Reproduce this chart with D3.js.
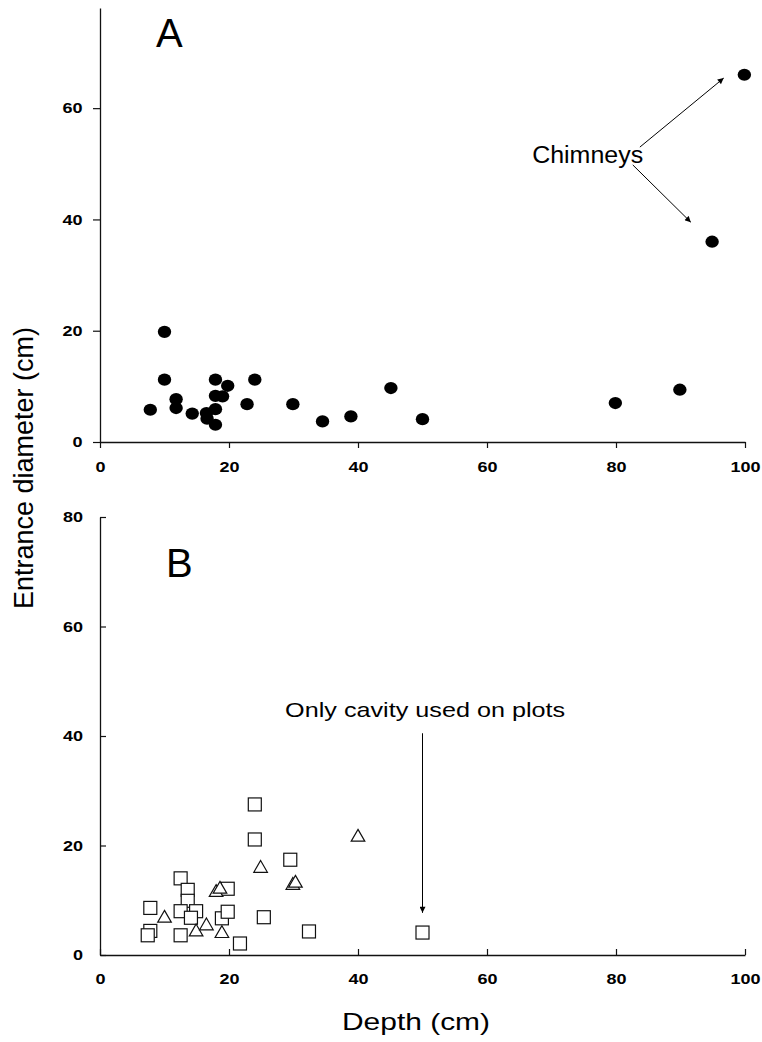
<!DOCTYPE html>
<html>
<head>
<meta charset="utf-8">
<script src="https://cdn.jsdelivr.net/npm/d3@7"></script>
<style>
  body { margin: 0; background: #fff; }
  svg { display: block; font-family: "Liberation Sans", Arial, sans-serif; }
</style>
</head>
<body>
<script>
// Panel A: all cavities (filled circles)
const depthA = [10, 10, 7.8, 11.8, 11.8, 14.3, 16.5, 16.6, 17.9, 17.9, 17.9, 17.9, 19.0, 19.8, 22.8, 24.0, 29.9, 34.5, 38.9, 45.1, 50.0, 79.9, 89.9, 94.9, 99.9];
const diamA = [19.8, 11.2, 5.8, 7.7, 6.1, 5.1, 5.2, 4.2, 11.2, 8.3, 5.9, 3.1, 8.2, 10.1, 6.8, 11.2, 6.8, 3.7, 4.6, 9.7, 4.1, 7.0, 9.4, 36.0, 66.0];

// Panel B: squares and triangles
const depthBsq = [24.0, 24.0, 29.5, 12.5, 13.6, 13.6, 19.8, 7.8, 12.5, 14.9, 14.1, 18.9, 19.8, 25.4, 7.8, 7.4, 12.5, 21.7, 32.4, 50.0];
const diamBsq = [27.5, 21.1, 17.4, 14.0, 11.9, 9.9, 12.1, 8.6, 8.0, 8.0, 6.8, 6.7, 7.9, 6.9, 4.4, 3.6, 3.6, 2.1, 4.3, 4.1];
const depthBtri = [10.0, 14.9, 16.5, 18.0, 18.6, 18.9, 24.9, 29.9, 30.3, 40.0];
const diamBtri = [6.9, 4.4, 5.5, 11.6, 12.2, 4.1, 16.0, 12.9, 13.3, 21.7];

const xTicks = [0, 20, 40, 60, 80, 100];
const yTicksA = [0, 20, 40, 60];
const yTicksB = [0, 20, 40, 60, 80];

// annotation arrows, in data units [x1, y1, x2, y2]
const arrowsA = [[83.7, 53.0, 96.7, 65.4], [82.6, 49.8, 91.6, 39.5]];
const arrowsB = [[50, 40.5, 50, 7.7]];

const width = 762, height = 1042;
const svg = d3.select('body').append('svg')
  .attr('width', width)
  .attr('height', height);

svg.append('defs').append('marker')
  .attr('id', 'head')
  .attr('viewBox', '0 0 10 10')
  .attr('refX', 10).attr('refY', 5)
  .attr('markerWidth', 8).attr('markerHeight', 6)
  .attr('markerUnits', 'userSpaceOnUse')
  .attr('orient', 'auto')
  .append('path')
    .attr('d', 'M0,0L10,5L0,10Z')
    .attr('fill', '#000');

const x = d3.scaleLinear().domain([0, 100]).range([100, 745]);
const yA = d3.scaleLinear().domain([0, 78]).range([442, 8]);
const yB = d3.scaleLinear().domain([0, 80]).range([955, 517]);

function stretch(sel, k) {
  sel.each(function () {
    const w = this.getComputedTextLength();
    d3.select(this).attr('textLength', w * k).attr('lengthAdjust', 'spacingAndGlyphs');
  });
}

function styleAxis(g) {
  g.select('.domain').attr('stroke', '#111').attr('stroke-width', 1.3);
  g.selectAll('.tick line').attr('stroke', '#111').attr('stroke-width', 1.2);
  g.selectAll('.tick text')
    .attr('fill', '#000')
    .attr('font-size', 15)
    .attr('font-weight', 'bold')
    .attr('font-family', '"Liberation Sans", Arial, sans-serif');
  stretch(g.selectAll('.tick text'), 1.2);
}

// ---- panel A ----
svg.append('g')
  .attr('transform', `translate(0,${yA(0)})`)
  .call(d3.axisBottom(x).tickValues(xTicks).tickSizeInner(6).tickSizeOuter(0).tickPadding(13.5))
  .call(styleAxis);

svg.append('g')
  .attr('transform', `translate(${x(0)},0)`)
  .call(d3.axisLeft(yA).tickValues(yTicksA).tickSizeInner(7).tickSizeOuter(0).tickPadding(10.5))
  .call(styleAxis);

svg.append('g')
  .selectAll('ellipse')
  .data(depthA.map((d, i) => [d, diamA[i]]))
  .join('ellipse')
    .attr('cx', d => x(d[0]))
    .attr('cy', d => yA(d[1]))
    .attr('rx', 6.7)
    .attr('ry', 6.1)
    .attr('fill', '#000');

svg.append('text')
  .attr('x', 156).attr('y', 47)
  .attr('font-size', 40)
  .text('A');

svg.append('text')
  .attr('x', x(67.0)).attr('y', yA(50.1))
  .attr('font-size', 23)
  .attr('textLength', 111).attr('lengthAdjust', 'spacingAndGlyphs')
  .text('Chimneys');

svg.append('g')
  .selectAll('line')
  .data(arrowsA)
  .join('line')
    .attr('x1', d => x(d[0])).attr('y1', d => yA(d[1]))
    .attr('x2', d => x(d[2])).attr('y2', d => yA(d[3]))
    .attr('stroke', '#000').attr('stroke-width', 1)
    .attr('marker-end', 'url(#head)');

// ---- panel B ----
svg.append('g')
  .attr('transform', `translate(0,${yB(0)})`)
  .call(d3.axisBottom(x).tickValues(xTicks).tickSizeInner(-6).tickSizeOuter(0).tickPadding(18.5))
  .call(styleAxis);

svg.append('g')
  .attr('transform', `translate(${x(0)},0)`)
  .call(d3.axisLeft(yB).tickValues(yTicksB).tickSizeInner(-6).tickSizeOuter(0).tickPadding(17))
  .call(styleAxis);

const sq = 13;
svg.append('g')
  .selectAll('rect')
  .data(depthBsq.map((d, i) => [d, diamBsq[i]]))
  .join('rect')
    .attr('x', d => x(d[0]) - sq / 2)
    .attr('y', d => yB(d[1]) - sq / 2)
    .attr('width', sq).attr('height', sq)
    .attr('fill', '#fff')
    .attr('stroke', '#111')
    .attr('stroke-width', 1.2);

const tri = d3.symbol().type(d3.symbolTriangle).size(80);
svg.append('g')
  .selectAll('path')
  .data(depthBtri.map((d, i) => [d, diamBtri[i]]))
  .join('path')
    .attr('d', tri)
    .attr('transform', d => `translate(${x(d[0])},${yB(d[1]) + 1})`)
    .attr('fill', '#fff')
    .attr('stroke', '#111')
    .attr('stroke-width', 1.2);

svg.append('text')
  .attr('x', 166).attr('y', 577)
  .attr('font-size', 40)
  .text('B');

svg.append('text')
  .attr('x', x(28.7)).attr('y', yB(43.5))
  .attr('font-size', 21)
  .attr('textLength', 280).attr('lengthAdjust', 'spacingAndGlyphs')
  .text('Only cavity used on plots');

svg.append('g')
  .selectAll('line')
  .data(arrowsB)
  .join('line')
    .attr('x1', d => x(d[0])).attr('y1', d => yB(d[1]))
    .attr('x2', d => x(d[2])).attr('y2', d => yB(d[3]))
    .attr('stroke', '#000').attr('stroke-width', 1)
    .attr('marker-end', 'url(#head)');

// ---- shared axis titles ----
svg.append('text')
  .attr('transform', 'translate(33,468) rotate(-90)')
  .attr('text-anchor', 'middle')
  .attr('font-size', 27)
  .text('Entrance diameter (cm)');

svg.append('text')
  .attr('x', 416).attr('y', 1030)
  .attr('text-anchor', 'middle')
  .attr('font-size', 24)
  .attr('textLength', 148).attr('lengthAdjust', 'spacingAndGlyphs')
  .text('Depth (cm)');
</script>
</body>
</html>
